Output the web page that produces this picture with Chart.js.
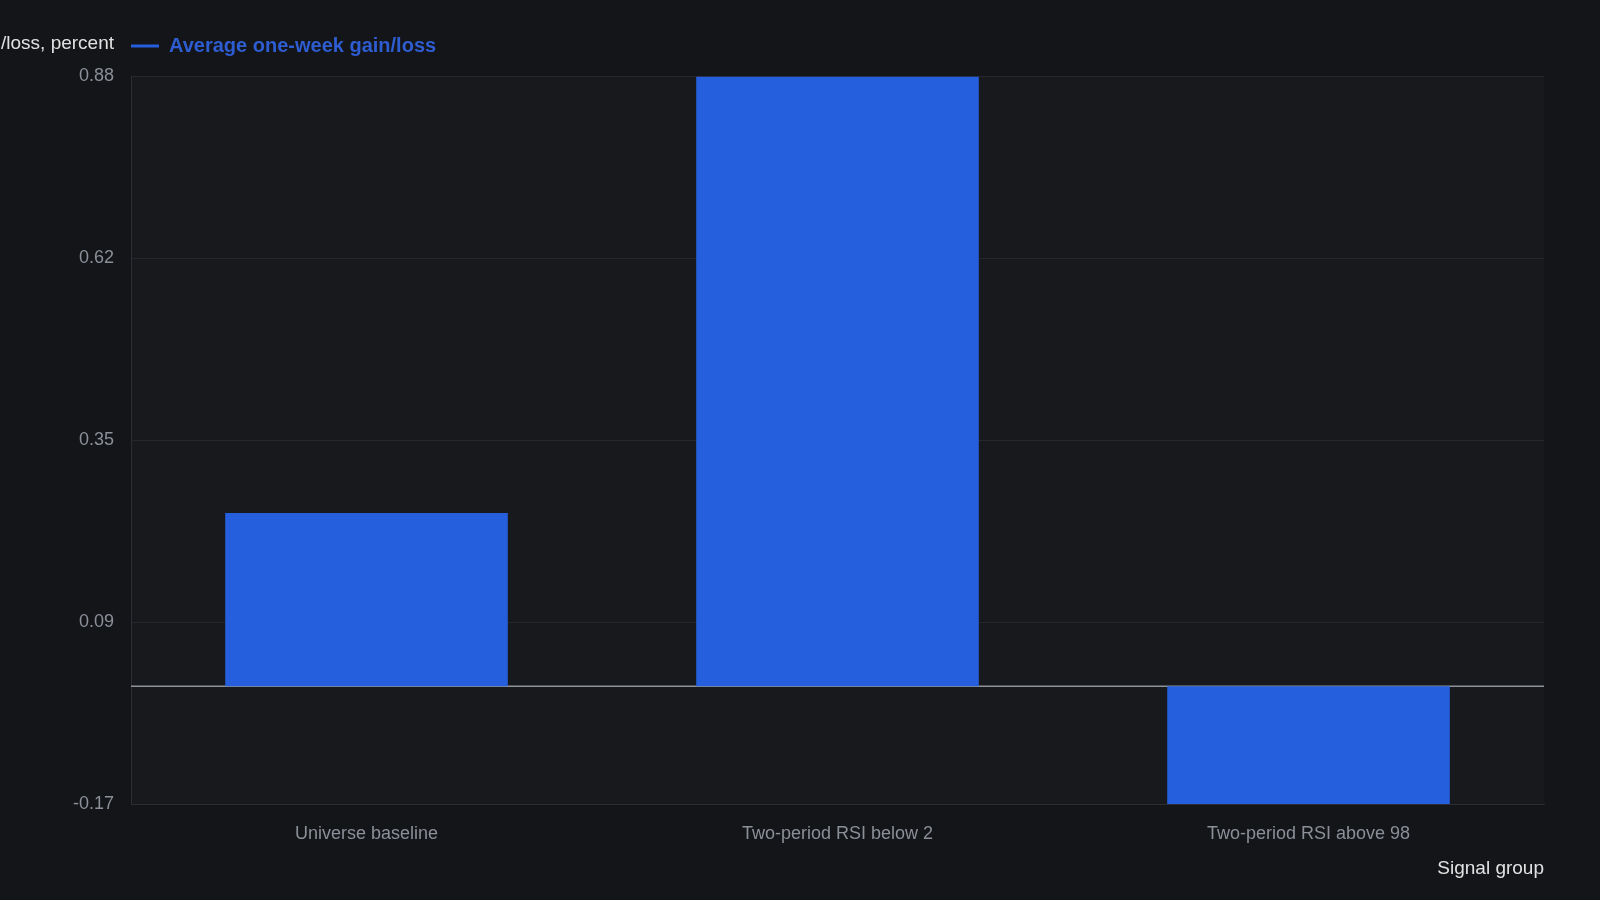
<!DOCTYPE html>
<html>
<head>
<meta charset="utf-8">
<script src="https://cdn.jsdelivr.net/npm/chart.js@4/dist/chart.umd.min.js"></script>
<style>
  html, body { margin: 0; padding: 0; background: #131519; }
  #wrap { width: 1600px; height: 900px; position: relative; }
</style>
</head>
<body>
<div id="wrap"><canvas id="c"></canvas></div>
<script>
const categories = ['Universe baseline', 'Two-period RSI below 2', 'Two-period RSI above 98'];
const avgGainLoss = [0.25, 0.88, -0.17];
const seriesLabel = 'Average one-week gain/loss';
const yAxisTitle = 'Average one-week gain/loss, percent';
const xAxisTitle = 'Signal group';
const yMin = -0.17;
const yMax = 0.88;
const yTickLabels = ['-0.17', '0.09', '0.35', '0.62', '0.88'];

const FONT = "'Liberation Sans', Arial, Helvetica, sans-serif";
const BAR = '#255fdd';
const LEGEND_PAD = 20;
const LEGEND_FONT = 20;
const LEGEND_LIFT = 10.5;

const decorPlugin = {
  id: 'decor',
  beforeDraw(chart) {
    const { ctx, chartArea: a } = chart;
    ctx.save();
    ctx.fillStyle = '#131519';
    ctx.fillRect(0, 0, chart.width, chart.height);
    ctx.fillStyle = '#17191d';
    ctx.fillRect(a.left, a.top, a.right - a.left, a.bottom - a.top);
    ctx.restore();
  },
  afterLayout(chart) {
    const lg = chart.legend;
    if (lg) {
      const shift = chart.chartArea.left - LEGEND_PAD - lg.left;
      lg.left += shift;
      lg.right += shift;
      lg.top -= LEGEND_LIFT;
      lg.bottom -= LEGEND_LIFT;
    }
  },
  beforeDatasetsDraw(chart) {
    const { ctx, chartArea: a, scales } = chart;
    const y0 = scales.y.getPixelForValue(0);
    ctx.save();
    ctx.strokeStyle = '#8e9399';
    ctx.lineWidth = 1.5;
    ctx.beginPath();
    ctx.moveTo(a.left, y0);
    ctx.lineTo(a.right, y0);
    ctx.stroke();
    ctx.restore();
  },
  afterDraw(chart) {
    const { ctx, legend } = chart;
    ctx.save();
    ctx.font = "19px " + FONT;
    ctx.fillStyle = '#e2e2e2';
    ctx.textAlign = 'right';
    ctx.textBaseline = 'middle';
    const yy = legend ? legend.top + LEGEND_PAD + LEGEND_FONT / 2 - 2 : 44;
    ctx.fillText(yAxisTitle, chart.chartArea.left - 17, yy);
    ctx.restore();
  }
};

new Chart(document.getElementById('c'), {
  type: 'bar',
  data: {
    labels: categories,
    datasets: [{
      label: seriesLabel,
      data: avgGainLoss,
      backgroundColor: BAR,
      borderWidth: 0,
      categoryPercentage: 0.6,
      barPercentage: 1.0
    }]
  },
  options: {
    responsive: true,
    maintainAspectRatio: false,
    animation: false,
    devicePixelRatio: 1,
    layout: { padding: { top: 26.5, right: 56, bottom: 0, left: 0 } },
    plugins: {
      tooltip: { enabled: false },
      legend: {
        display: true,
        position: 'top',
        align: 'start',
        labels: {
          boxWidth: 28,
          boxHeight: 3,
          padding: LEGEND_PAD,
          color: '#2e5dd2',
          font: { family: FONT, size: LEGEND_FONT, weight: 'bold' }
        }
      }
    },
    scales: {
      x: {
        afterFit(scale) { scale.height = 96; },
        grid: { display: false, drawTicks: false },
        border: { display: true, color: '#2c2e33', width: 1 },
        ticks: {
          color: '#8b8f97',
          padding: 19,
          font: { family: FONT, size: 18 }
        },
        title: {
          display: true,
          text: xAxisTitle,
          align: 'end',
          color: '#e2e2e2',
          padding: { top: 0, bottom: 20 },
          font: { family: FONT, size: 19 }
        }
      },
      y: {
        min: yMin,
        max: yMax,
        afterFit(scale) { scale.width = 131; },
        afterBuildTicks(scale) {
          const n = yTickLabels.length;
          scale.ticks = yTickLabels.map((lbl, i) => ({ value: yMin + (yMax - yMin) * i / (n - 1), label: lbl }));
        },
        grid: { color: '#25272c', lineWidth: 1, drawTicks: false },
        border: { display: true, color: '#2c2e33', width: 1 },
        ticks: {
          color: '#8b8f97',
          padding: 17,
          font: { family: FONT, size: 18 },
          callback(value, index) { return yTickLabels[index]; }
        }
      }
    }
  },
  plugins: [decorPlugin]
});
</script>
</body>
</html>
